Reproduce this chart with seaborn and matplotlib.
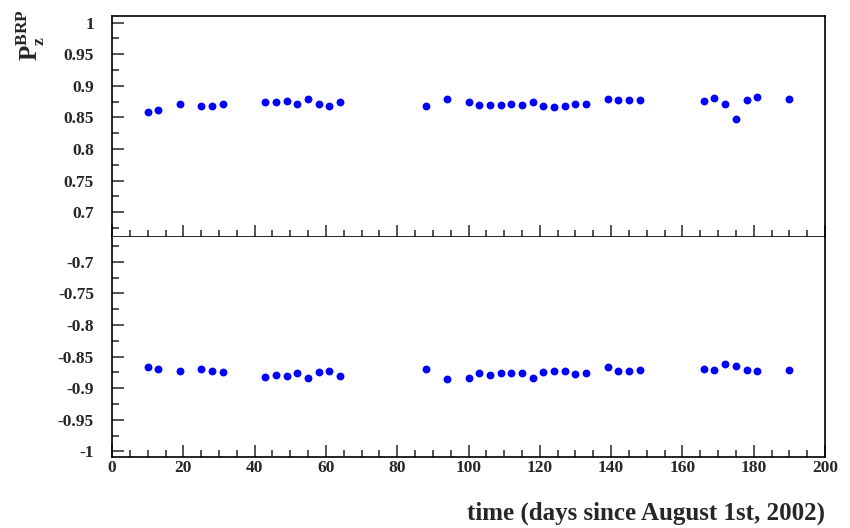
"""Beam polarisation P_z (BRP) versus time, two panels."""

import numpy as np
import pandas as pd
import matplotlib
matplotlib.use("Agg")
import matplotlib.pyplot as plt
from matplotlib.ticker import MultipleLocator
import seaborn as sns

# days since August 1st, 2002
days = [10, 13, 19, 25, 28, 31, 43, 46, 49, 52, 55, 58, 61, 64,
        88, 94, 100, 103, 106, 109, 112, 115, 118, 121, 124, 127, 130, 133,
        139, 142, 145, 148, 166, 169, 172, 175, 178, 181, 190]

pz_positive = [0.858, 0.862, 0.871, 0.868, 0.868, 0.872, 0.874, 0.874, 0.876,
               0.872, 0.879, 0.871, 0.868, 0.874,
               0.868, 0.879, 0.875, 0.870, 0.870, 0.870, 0.871, 0.869, 0.875,
               0.868, 0.867, 0.868, 0.872, 0.872,
               0.879, 0.877, 0.877, 0.878, 0.876, 0.880, 0.872, 0.847, 0.877,
               0.883, 0.879]

pz_negative = [-0.866, -0.870, -0.872, -0.870, -0.872, -0.875, -0.882, -0.879,
               -0.881, -0.876, -0.884, -0.875, -0.872, -0.880,
               -0.870, -0.885, -0.883, -0.876, -0.879, -0.876, -0.876, -0.876,
               -0.883, -0.874, -0.873, -0.873, -0.877, -0.876,
               -0.866, -0.872, -0.872, -0.871, -0.870, -0.871, -0.862, -0.865,
               -0.871, -0.872, -0.871]

x_ticks = [0, 20, 40, 60, 80, 100, 120, 140, 160, 180, 200]
top_ticks = [0.7, 0.75, 0.8, 0.85, 0.9, 0.95, 1]
bottom_ticks = [-1, -0.95, -0.9, -0.85, -0.8, -0.75, -0.7]


def fmt(v: float) -> str:
  """ROOT-like tick label."""
  return f"{v:g}"


sns.set_style("ticks")
plt.rcParams["font.family"] = ["Liberation Serif", "DejaVu Serif"]
plt.rcParams["font.weight"] = "bold"
plt.rcParams["mathtext.fontset"] = "custom"
plt.rcParams["mathtext.bf"] = "Liberation Serif:bold"
plt.rcParams["mathtext.rm"] = "Liberation Serif:bold"

fig = plt.figure(figsize=(8.5, 5.28), dpi=100)
ax_top = fig.add_axes([0.1318, 0.5502, 0.8388, 0.4201])
ax_bot = fig.add_axes([0.1318, 0.1345, 0.8388, 0.4157])

df_top = pd.DataFrame({"day": days, "pz": pz_positive})
df_bot = pd.DataFrame({"day": days, "pz": pz_negative})

for ax, df in ((ax_top, df_top), (ax_bot, df_bot)):
  sns.scatterplot(
    data=df, x="day", y="pz",
    color="#0000ff", s=32, linewidth=0,
    ax=ax,
  )
  ax.set_xlim(0, 200)
  ax.set_xlabel("")
  ax.set_ylabel("")
  for side in ("left", "bottom", "right", "top"):
    ax.spines[side].set_linewidth(1.2)
    ax.spines[side].set_color("black")
  ax.xaxis.set_minor_locator(MultipleLocator(5))
  ax.yaxis.set_minor_locator(MultipleLocator(0.025))
  ax.tick_params(axis="both", which="major", direction="in", length=8.5,
                 width=1.1, labelsize=12.5, top=False, right=False)
  ax.tick_params(axis="both", which="minor", direction="in", length=5,
                 width=1.1, top=False, right=False)
  ax.tick_params(axis="y", which="major", pad=13)

# Top panel
ax_top.set_ylim(0.66, 1.011)
ax_top.set_yticks(top_ticks, [fmt(v) for v in top_ticks])
ax_top.set_xticks(x_ticks)
ax_top.tick_params(axis="x", labelbottom=False)

# Bottom panel
ax_bot.set_ylim(-1.0087, -0.6614)
ax_bot.set_yticks(bottom_ticks, [fmt(v) for v in bottom_ticks])
ax_bot.set_xticks(x_ticks, [str(v) for v in x_ticks])
ax_bot.tick_params(axis="x", pad=2.5)
ax_bot.spines["top"].set_visible(False)

fig.text(0.9706, 0.028, "time (days since August 1st, 2002)",
         ha="right", va="center", fontsize=18, fontweight="bold")
fig.text(0.036, 0.982, r"$\mathbf{P}_{\mathbf{z}}^{\mathbf{BRP}}$",
         rotation=90, ha="center", va="top", fontsize=18)

fig.savefig("out.png", dpi=100)
